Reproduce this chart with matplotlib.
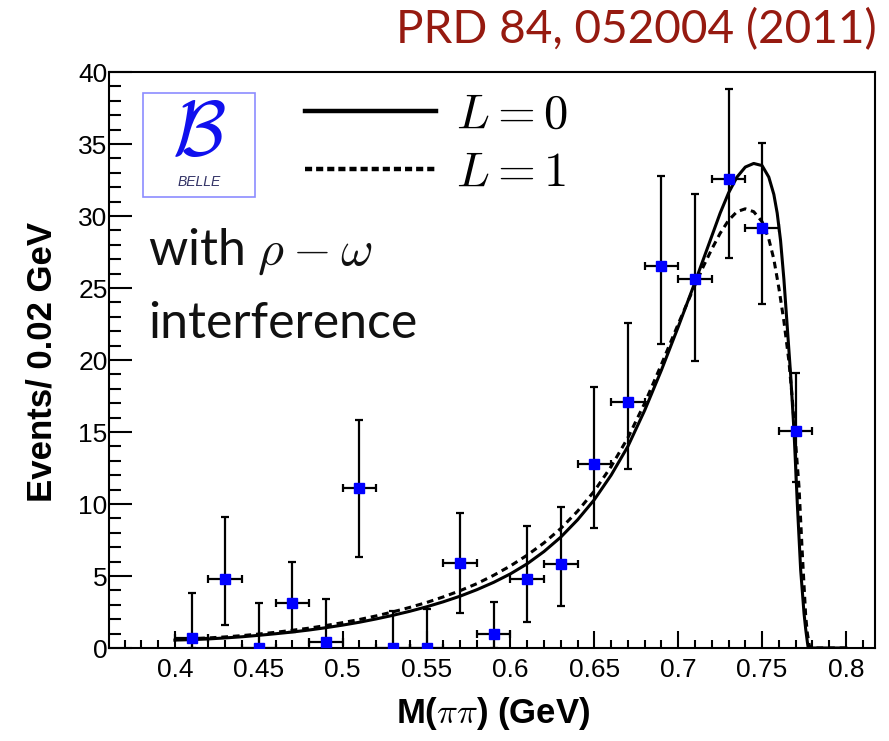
import numpy as np
import matplotlib
matplotlib.use("Agg")
import matplotlib.pyplot as plt
from matplotlib.patches import Rectangle
from matplotlib.lines import Line2D

plt.rcParams['mathtext.fontset'] = 'cm'

# data: M(pi pi) bin centres in GeV, 0.02 GeV bins
mass = [0.41, 0.43, 0.45, 0.47, 0.49, 0.51, 0.53, 0.55, 0.57, 0.59,
        0.61, 0.63, 0.65, 0.67, 0.69, 0.71, 0.73, 0.75, 0.77]
events = [0.7, 4.8, 0.0, 3.1, 0.4, 11.1, 0.0, 0.0, 5.9, 1.0,
          4.8, 5.8, 12.8, 17.1, 26.5, 25.6, 32.6, 29.2, 15.1]
# lower / upper ends of the error bars
err_lo = [0.0, 1.6, 0.0, 1.1, 0.0, 6.3, 0.0, 0.0, 2.4, 0.0,
          1.8, 2.9, 8.3, 12.4, 21.1, 19.9, 27.1, 23.9, 11.5]
err_hi = [3.8, 9.1, 3.1, 6.0, 3.4, 15.8, 2.6, 2.7, 9.4, 3.2,
          8.5, 9.8, 18.1, 22.6, 32.8, 31.5, 38.8, 35.1, 19.1]
bin_half = 0.01

# fit with L = 0
fit0_m = [0.40, 0.41, 0.42, 0.43, 0.44, 0.45, 0.46, 0.47, 0.48, 0.49,
          0.50, 0.51, 0.52, 0.53, 0.54, 0.55, 0.56, 0.57, 0.58, 0.59,
          0.60, 0.61, 0.62, 0.63, 0.64, 0.65, 0.66, 0.67, 0.68, 0.69,
          0.70, 0.71, 0.72, 0.725, 0.73, 0.735, 0.74, 0.745, 0.75, 0.754,
          0.757, 0.759, 0.761, 0.763, 0.765, 0.767, 0.769, 0.771, 0.773, 0.775,
          0.776, 0.777, 0.7775, 0.80]
fit0_y = [0.55, 0.58, 0.63, 0.70, 0.78, 0.88, 0.99, 1.11, 1.25, 1.41,
          1.59, 1.79, 2.02, 2.27, 2.55, 2.86, 3.21, 3.60, 4.05, 4.56,
          5.15, 5.85, 6.7, 7.7, 8.9, 10.3, 12.0, 14.0, 16.5, 19.3,
          22.3, 25.4, 28.6, 30.2, 31.6, 32.7, 33.4, 33.65, 33.5, 32.7,
          31.5, 30.2, 28.3, 25.6, 22.3, 19.0, 15.1, 10.0, 5.4, 2.4,
          1.3, 0.4, 0.0, 0.0]
# fit with L = 1
fit1_m = [0.40, 0.41, 0.42, 0.43, 0.44, 0.45, 0.46, 0.47, 0.48, 0.49,
          0.50, 0.51, 0.52, 0.53, 0.54, 0.55, 0.56, 0.57, 0.58, 0.59,
          0.60, 0.61, 0.62, 0.63, 0.64, 0.65, 0.66, 0.67, 0.68, 0.69,
          0.70, 0.71, 0.715, 0.72, 0.725, 0.73, 0.735, 0.74, 0.745, 0.75,
          0.754, 0.757, 0.760, 0.763, 0.766, 0.768, 0.770, 0.772, 0.774, 0.776,
          0.777, 0.778, 0.7785, 0.80]
fit1_y = [0.6, 0.64, 0.7, 0.77, 0.86, 0.97, 1.09, 1.23, 1.38, 1.56,
          1.76, 1.98, 2.23, 2.51, 2.82, 3.16, 3.55, 3.98, 4.47, 5.05,
          5.7, 6.45, 7.3, 8.3, 9.5, 10.9, 12.6, 14.6, 17.0, 19.7,
          22.5, 25.2, 26.5, 27.7, 28.8, 29.7, 30.3, 30.5, 30.3, 29.6,
          28.4, 27.0, 25.0, 22.7, 19.9, 17.3, 14.2, 11.2, 6.5, 2.2,
          1.0, 0.3, 0.0, 0.0]

W, H = 889, 741
fig = plt.figure(figsize=(W / 100, H / 100), dpi=100)


def fx(x):
    return x / W


def fy(y):
    return 1 - y / H


ax = fig.add_axes([fx(109), fy(648), fx(875) - fx(109), fy(72) - fy(648)])

m = np.array(mass)
ev = np.array(events)
yerr = [ev - np.array(err_lo), np.array(err_hi) - ev]

ax.errorbar(m, ev, xerr=bin_half, yerr=yerr, fmt='none', ecolor='black',
            elinewidth=1.6, capsize=2.7, capthick=1.6, zorder=2)
ax.plot(fit0_m, fit0_y, color='black', lw=2.2, zorder=3, solid_joinstyle='round')
ax.plot(fit1_m, fit1_y, color='black', lw=2.2, ls=(0, (2.2, 1.6)), zorder=3)
ax.plot(m, ev, 's', color='#0000ff', ms=7.5, mec='#0000ff', zorder=4)

ax.set_xlim(0.3607, 0.8173)
ax.set_ylim(0, 40)
ax.set_xticks(np.arange(0.4, 0.801, 0.05))
ax.set_xticklabels(['0.4', '0.45', '0.5', '0.55', '0.6', '0.65', '0.7', '0.75', '0.8'])
ax.set_xticks(np.arange(0.37, 0.816, 0.01), minor=True)
ax.set_yticks(np.arange(0, 41, 5))
ax.set_yticks(np.arange(0, 41, 1), minor=True)

for sp in ax.spines.values():
    sp.set_linewidth(1.5)
ax.tick_params(axis='both', which='both', direction='in', width=1.5,
               top=False, right=False)
ax.tick_params(axis='x', which='major', length=12, pad=7, labelsize=19)
ax.tick_params(axis='x', which='minor', length=6)
ax.tick_params(axis='y', which='major', length=16.5, pad=1, labelsize=19)
ax.tick_params(axis='y', which='minor', length=8.3)
for lab in ax.get_xticklabels() + ax.get_yticklabels():
    lab.set_family('Liberation Sans')

fig.text(fx(42), fy(362), 'Events/ 0.02 GeV', rotation=90, ha='center',
         va='center', fontsize=25, fontweight='bold', family='Liberation Sans')
fig.text(fx(590), fy(713), r'M($\mathrm{\pi\pi}$) (GeV)', ha='right', va='center',
         fontsize=25, fontweight='bold', family='Liberation Sans')

# journal reference
fig.text(fx(877), fy(43), 'PRD 84, 052004 (2011)', ha='right', va='baseline',
         fontsize=33, color='#961a10', family='Lato')

# annotation
fig.text(fx(148), fy(265), r'with $\rho-\omega$', ha='left', va='baseline',
         fontsize=36, color='#111111', family='Lato')
fig.text(fx(148), fy(338), 'interference', ha='left', va='baseline',
         fontsize=36, color='#111111', family='Lato')

# Belle logo box
fig.patches.append(Rectangle((fx(143), fy(197)), fx(255) - fx(143), fy(93) - fy(197),
                             transform=fig.transFigure, fill=False,
                             edgecolor='#8c8cff', lw=1.2))
fig.text(fx(199), fy(133), r'$\mathcal{B}$', ha='center', va='center',
         fontsize=56, color='#1010ee')
fig.text(fx(199), fy(182), 'BELLE', ha='center', va='center', fontsize=10,
         style='italic', color='#333366', family='Liberation Sans')

handles = [Line2D([], [], color='black', lw=3.2),
           Line2D([], [], color='black', lw=3.2, ls=(0, (1.6, 0.9)))]
ax.legend(handles, [r'$L=0$', r'$L=1$'], loc='upper left',
          bbox_to_anchor=(fx(305), fy(90)), bbox_transform=fig.transFigure,
          frameon=False, fontsize=35, handlelength=2.7, handletextpad=0.4,
          borderpad=0, borderaxespad=0, labelspacing=0.2)

fig.savefig('out.png', dpi=100)
